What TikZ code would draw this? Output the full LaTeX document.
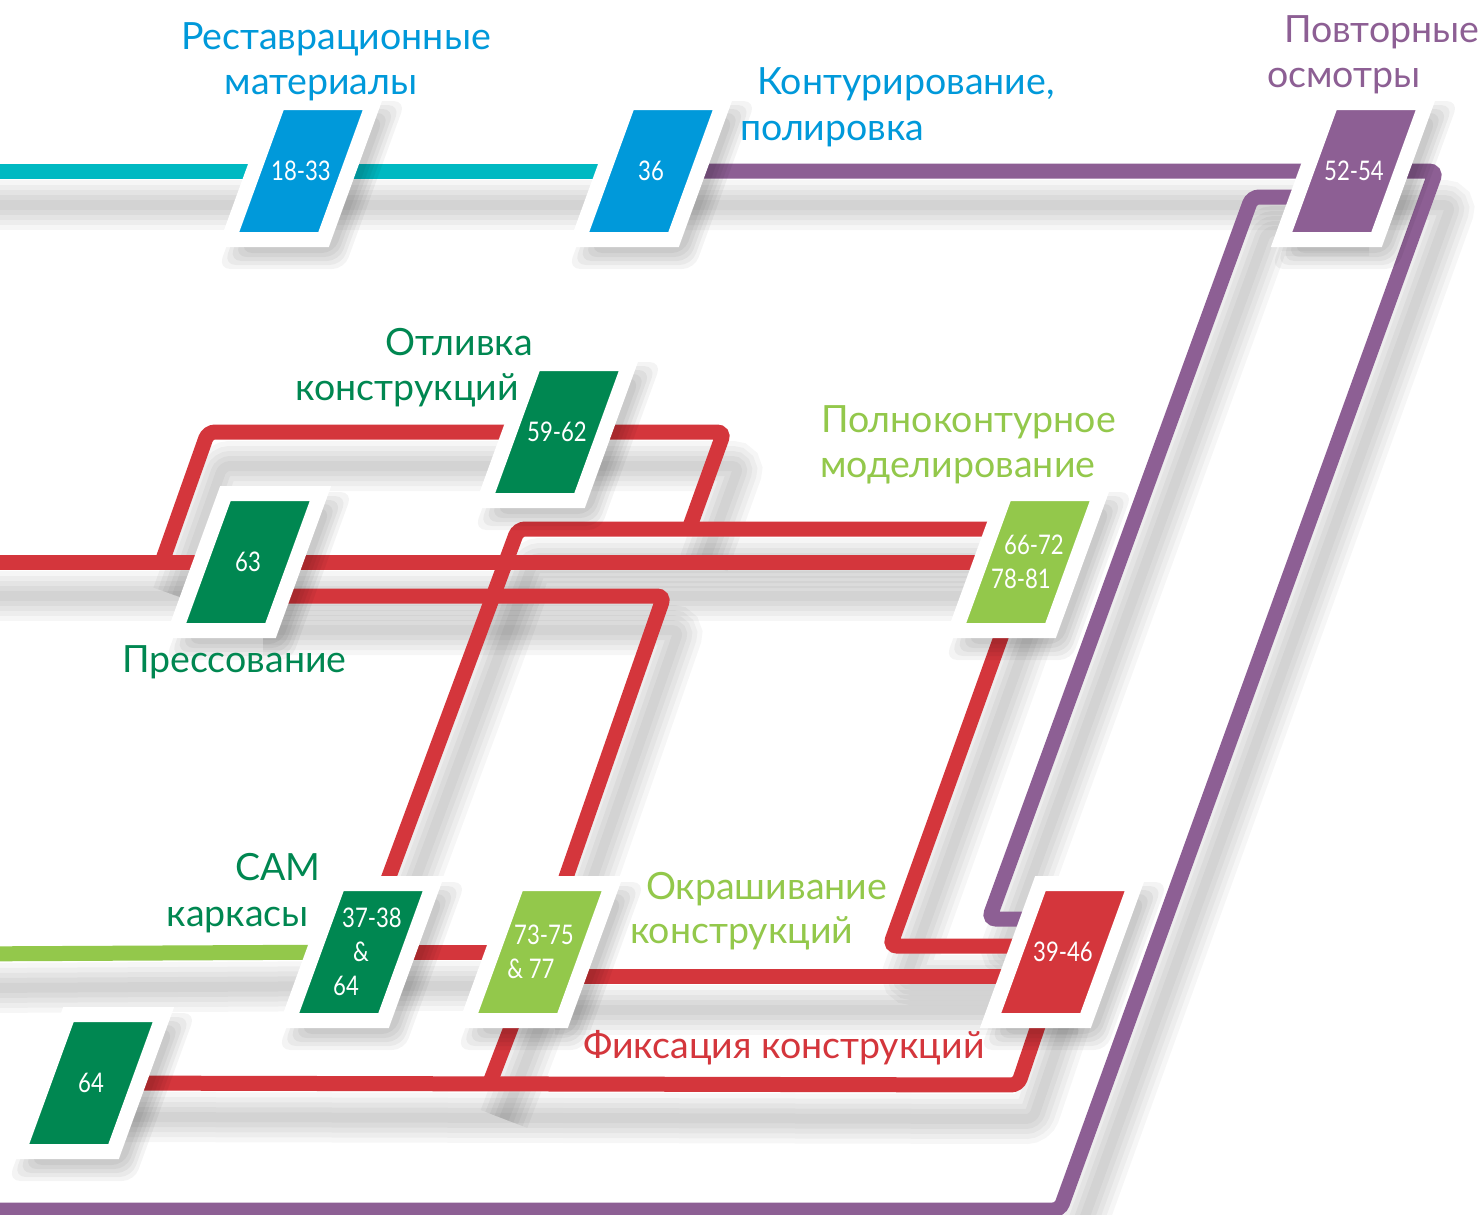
\documentclass[tikz,border=0pt]{standalone}
\usepackage{fontspec}
\setmainfont{Lato}
\newfontfamily\numfont[FakeStretch=0.82]{Lato}

\definecolor{ablue}{HTML}{0099DA}
\definecolor{ateal}{HTML}{00B9C2}
\definecolor{apurple}{HTML}{8D5F94}
\definecolor{adkgreen}{HTML}{008751}
\definecolor{altgreen}{HTML}{93C84B}
\definecolor{ared}{HTML}{D4363C}

\pgfdeclarelayer{bg}
\pgfdeclarelayer{shadelayer}
\pgfdeclarelayer{tracklayer}
\pgfsetlayers{bg,shadelayer,tracklayer,main}

\tikzset{
  numtext/.style={text=white, inner sep=0pt, align=center,
    font=\numfont\fontsize{27}{34}\selectfont},
  trackline/.style={draw=#1, line width=15pt, rounded corners=7pt},
  lbl/.style={text=#1, inner sep=0pt, font=\fontsize{37.5}{44}\selectfont},
}

% one slanted station box: name, colour, centre, numbers
\newcommand\stationbox[4]{%
  \begin{scope}[shift={#3}, xslant=0.364]
    \foreach \s in {16,12,8,4,0}
      \fill[black, opacity=0.045, rounded corners=12pt] (-31-\s,-54-\s) rectangle (63+\s,82+\s);
    \filldraw[fill=#2, draw=white, line width=15pt] (-47.5,-68.5) rectangle (47.5,68.5);
  \end{scope}
  \node[numtext] (#1) at #3 {#4};}

% one line of the scheme with its soft shadow
\newcommand\route[2]{%
  \begin{pgfonlayer}{shadelayer}
    \begin{scope}[transform canvas={shift={(15pt,-34pt)}}]
      \foreach \w in {10,20,30,40,50}
        \draw[line width=\w, black, opacity=0.035, rounded corners=7pt] #2;
    \end{scope}
  \end{pgfonlayer}
  \begin{pgfonlayer}{tracklayer}
    \draw[trackline=#1] #2;
  \end{pgfonlayer}}

\begin{document}
\begin{tikzpicture}[x=1pt,y=-1pt]
    \useasboundingbox (0,0) rectangle (1483,1215);
    \begin{pgfonlayer}{bg}
      \fill[white] (0,0) rectangle (1483,1215);
    \end{pgfonlayer}
    %%stations
    \stationbox{b1833}{ablue}{(301,171)}{18-33}
    \stationbox{b36}{ablue}{(651,171)}{36}
    \stationbox{b5254}{apurple}{(1354,171)}{52-54}
    \stationbox{b5962}{adkgreen}{(557,432)}{59-62}
    \stationbox{b63}{adkgreen}{(248,562)}{63}
    \stationbox{b6672}{altgreen}{(1028,562)}{\hspace*{12pt}66-72\\78-81\hspace*{14pt}}
    \stationbox{b3738}{adkgreen}{(361,952)}{\hspace*{22pt}37-38\\\&\\64\hspace*{30pt}}
    \stationbox{b7375}{altgreen}{(540,952)}{\hspace*{8pt}73-75\\\& 77\hspace*{18pt}}
    \stationbox{b64}{adkgreen}{(91,1083)}{64}
    \stationbox{b3946}{ared}{(1063,952)}{39-46}
    %%corners and free ends
    \coordinate (tin) at (-40,171);
    \coordinate (pc1) at (1436,171);
    \coordinate (pc2) at (1060,1210);
    \coordinate (pout) at (-40,1210);
    \coordinate (pc3) at (1252,197);
    \coordinate (pc4) at (989,919);
    \coordinate (rin) at (-40,562);
    \coordinate (rj1) at (162,562);
    \coordinate (rc1) at (208,432);
    \coordinate (rc2) at (724,432);
    \coordinate (rj2) at (689,529);
    \coordinate (rc3) at (518,529);
    \coordinate (rc4) at (664,596);
    \coordinate (rj3) at (489,1085);
    \coordinate (rc5) at (1018,1085);
    \coordinate (rc6) at (890,946);
    \coordinate (gin) at (-40,954);
    %%lines
    \route{ateal}{(tin) -- (b1833.center) -- (b36.center)}
    \route{apurple}{(b36.center) -- (b5254.center) -- (pc1) -- (pc2) -- (pout)}
    \route{apurple}{([yshift=-26pt]b5254.center) -- (pc3) -- (pc4) -- ([yshift=33pt]b3946.center)}
    \route{ared}{(rin) -- (b63.center) -- (b6672.center)}
    \route{ared}{(rj1) -- (rc1) -- (b5962.center) -- (rc2) -- (rj2)}
    \route{ared}{(b3738.center) -- (rc3) -- ([yshift=33pt]b6672.center)}
    \route{ared}{([yshift=-34pt]b63.center) -- (rc4) -- (b7375.center) -- (rj3)}
    \route{ared}{(b64.center) -- (rc5) -- (b3946.center)}
    \route{ared}{(b6672.center) -- (rc6) -- ([yshift=6pt]b3946.center)}
    \route{ared}{(b3738.center) -- (b7375.center)}
    \route{ared}{([yshift=-24pt]b7375.center) -- ([yshift=-24pt]b3946.center)}
    \route{altgreen}{(gin) -- (b3738.center)}
    %%labels
    \node[lbl=ablue, anchor=base] (rest1) at (336,50) {Реставрационные};
    \node[lbl=ablue, anchor=base] (rest2) at (321,95) {материалы};
    \node[lbl=ablue, anchor=base west] (kont1) at (757,94) {Контурирование,};
    \node[lbl=ablue, anchor=base west] (kont2) at (740,140) {полировка};
    \node[lbl=apurple, anchor=base west] (povt1) at (1284,43) {Повторные};
    \node[lbl=apurple, anchor=base west] (povt2) at (1267,88) {осмотры};
    \node[lbl=adkgreen, anchor=base east] (otl1) at (533,355) {Отливка};
    \node[lbl=adkgreen, anchor=base east] (otl2) at (519,400) {конструкций};
    \node[lbl=adkgreen, anchor=base west] (press) at (122,672) {Прессование};
    \node[lbl=altgreen, anchor=base west] (poln1) at (821,432) {Полноконтурное};
    \node[lbl=altgreen, anchor=base west] (poln2) at (820,477) {моделирование};
    \node[lbl=adkgreen, anchor=base east] (cam1) at (321,880) {САМ};
    \node[lbl=adkgreen, anchor=base east] (cam2) at (309,926) {каркасы};
    \node[lbl=altgreen, anchor=base west] (okr1) at (646,899) {Окрашивание};
    \node[lbl=altgreen, anchor=base west] (okr2) at (630,943) {конструкций};
    \node[lbl=ared, anchor=base west] (fix) at (583,1058) {Фиксация конструкций};
\end{tikzpicture}
\end{document}
